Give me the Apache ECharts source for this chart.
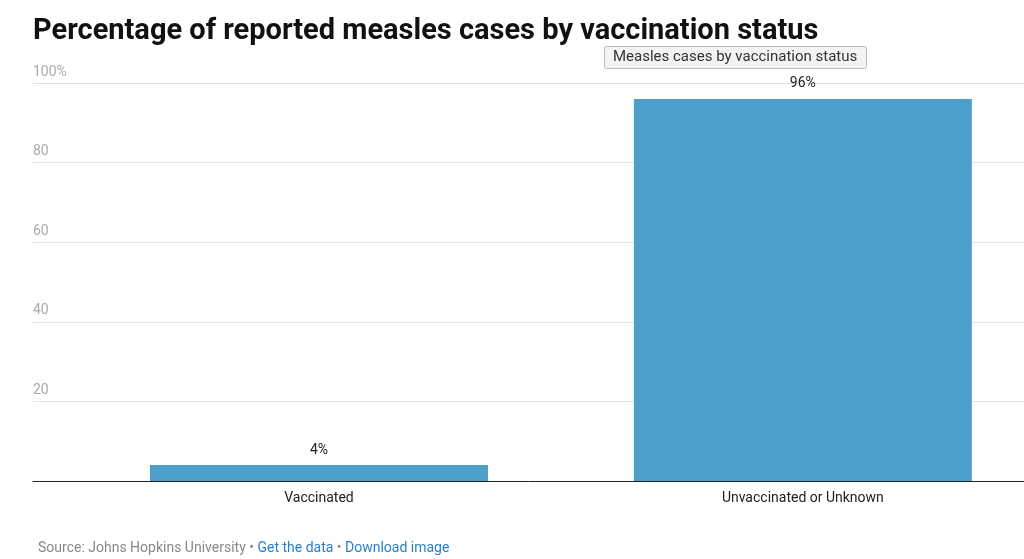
<!DOCTYPE html><html><head><meta charset="utf-8"><script src="https://cdn.jsdelivr.net/npm/echarts@6/dist/echarts.min.js"></script>
<style>body{margin:0}#c{width:1024px;height:559px}</style></head><body><div id="c"></div><script>
const categories=['Vaccinated','Unvaccinated or Unknown'];
const values=[4,96];
const yTicks=[0,20,40,60,80,100];
const F='Roboto, "Helvetica Neue", Arial, sans-serif';
const c=echarts.init(document.getElementById('c'));
c.setOption({
 animation:false,
 title:[{text:'Percentage of reported measles cases by vaccination status',left:28,top:12,textStyle:{fontFamily:F,fontSize:29,fontWeight:'bold',color:'#111'}},
 {text:'Measles cases by vaccination status',left:604,top:46,padding:[4,9],backgroundColor:'#f3f3f3',borderColor:'#bbb',borderWidth:1,borderRadius:2,textStyle:{fontFamily:F,fontSize:15,fontWeight:'normal',color:'#333'}},
 {text:'{g|Source: Johns Hopkins University • }{b|Get the data}{g| • }{b|Download image}',left:33,top:536,textStyle:{fontWeight:'normal',rich:{g:{fontFamily:F,fontSize:14,fontWeight:'normal',color:'#888'},b:{fontFamily:F,fontSize:14,fontWeight:'normal',color:'#2a7fc9'}}}}],
 grid:{left:33,right:0,top:83,bottom:78},
 xAxis:{type:'value',min:-0.591,max:1.457,splitLine:{show:false},axisTick:{show:false},
  axisLine:{show:true,onZero:false,lineStyle:{color:'#222'}},
  axisLabel:{customValues:[0,1],formatter:v=>categories[Math.round(v)]||'',fontFamily:F,fontSize:14,color:'#222',margin:10}},
 yAxis:{type:'value',min:0,max:100,interval:20,axisLine:{show:false},axisTick:{show:false},
  splitLine:{lineStyle:{color:'#e2e2e2'}},
  axisLabel:{inside:true,margin:0,verticalAlign:'bottom',padding:[0,0,4,0],fontFamily:F,fontSize:14,color:'#aaa',
   formatter:v=>v===0?'':(v===100?v+'%':String(v))}},
 series:[{type:'bar',data:values.map((v,i)=>[i,v]),barWidth:338,itemStyle:{color:'#4c9fca'},
   label:{show:true,position:'top',distance:8,formatter:p=>p.value[1]+'%',fontFamily:F,fontSize:14,color:'#222'}}]
});
</script></body></html>
